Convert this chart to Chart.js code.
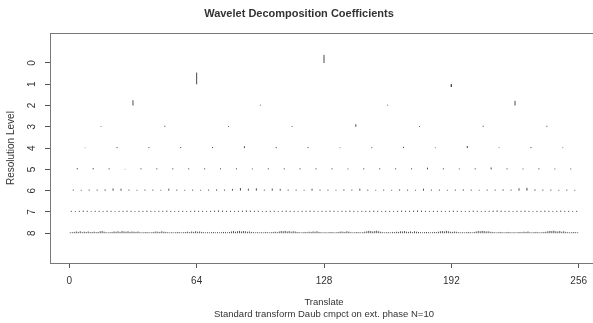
<!DOCTYPE html>
<html><head><meta charset="utf-8">
<script src="https://cdn.jsdelivr.net/npm/chart.js@4/dist/chart.umd.min.js"></script>
<style>
html,body{margin:0;padding:0;overflow:hidden;background:#fff;width:593px;height:323px}
canvas{display:block}
</style></head>
<body>
<canvas id="c" width="648" height="323" style="width:648px;height:323px"></canvas>
<script>
// ---- data (coefficient heights, in resolution-level units; + = upward) ----
const chartTitle = "Wavelet Decomposition Coefficients";
const xTitle = ["Translate", "Standard transform Daub cmpct on ext. phase N=10"];
const yTitle = "Resolution Level";
const xTickValues = [0, 64, 128, 192, 256];
const yTickValues = [0, 1, 2, 3, 4, 5, 6, 7, 8];
const nTranslate = 256;

const d0 = [0.38];
const d1 = [0.55, -0.12];
const d2 = [0.25, 0.04, 0.04, 0.22];
const d3 = [0.03, 0.05, 0.04, 0.04, 0.12, 0.04, 0.05, 0.05];
const d4 = [0.02, 0.05, 0.05, 0.05, 0.05, 0.09, 0.05, 0.05, 0.03, 0.04, 0.06, 0.03, 0.10, 0.03, 0.05, 0.03];
const d5 = [0.06, 0.06, 0.05, 0.02, 0.05, 0.05, 0.05, 0.05,
            0.05, 0.05, 0.05, 0.04, 0.05, 0.05, 0.05, 0.05,
            0.05, 0.04, 0.05, 0.05, 0.05, 0.05, 0.08, 0.05,
            0.04, 0.05, 0.09, 0.05, 0.04, 0.05, 0.04, 0.04];
const d6 = [0.05, 0.04, 0.05, 0.05, 0.06, 0.10, 0.09, 0.05, 0.04, 0.05, 0.05, 0.04, 0.09, 0.05, 0.04, 0.05,
            0.04, 0.05, 0.06, 0.05, 0.08, 0.12, 0.09, 0.11, 0.05, 0.10, 0.08, 0.05, 0.05, 0.04, 0.09, 0.05,
            0.05, 0.04, 0.06, 0.05, 0.09, 0.05, 0.04, 0.05, 0.04, 0.06, 0.05, 0.04, 0.09, 0.05, 0.05, 0.04,
            0.05, 0.06, 0.05, 0.04, 0.05, 0.05, 0.06, 0.05, 0.11, 0.13, 0.06, 0.05, 0.05, 0.04, 0.05, 0.04];
const d7 = [0.05, 0.04, 0.05, 0.06, 0.05, 0.04, 0.05, 0.05, 0.04, 0.06, 0.05, 0.04, 0.05, 0.05, 0.06, 0.05,
            0.04, 0.05, 0.05, 0.06, 0.05, 0.04, 0.05, 0.05, 0.06, 0.05, 0.04, 0.05, 0.05, 0.04, 0.05, 0.06,
            0.05, 0.05, 0.04, 0.05, 0.06, 0.07, 0.06, 0.05, 0.05, 0.04, 0.05, 0.06, 0.07, 0.06, 0.05, 0.05,
            0.04, 0.05, 0.05, 0.05, 0.04, 0.05, 0.06, 0.05, 0.05, 0.04, 0.05, 0.05, 0.06, 0.05, 0.04, 0.05,
            0.05, 0.06, 0.05, 0.04, 0.05, 0.05, 0.06, 0.05, 0.04, 0.05, 0.05, 0.05, 0.06, 0.05, 0.04, 0.05,
            0.05, 0.04, 0.05, 0.06, 0.05, 0.05, 0.06, 0.07, 0.06, 0.05, 0.04, 0.05, 0.05, 0.05, 0.04, 0.05,
            0.06, 0.05, 0.05, 0.04, 0.05, 0.06, 0.05, 0.04, 0.05, 0.05, 0.06, 0.07, 0.06, 0.05, 0.05, 0.04,
            0.05, 0.05, 0.06, 0.05, 0.04, 0.05, 0.05, 0.06, 0.05, 0.04, 0.05, 0.06, 0.05, 0.05, 0.04, 0.05];
const d8 = [0.04, 0.05, 0.06, 0.08, 0.06, 0.09, 0.05, 0.07, 0.06, 0.08, 0.05, 0.06, 0.07, 0.05, 0.06, 0.09,
            0.10, 0.07, 0.05, 0.04, 0.05, 0.06, 0.08, 0.07, 0.09, 0.06, 0.10, 0.08, 0.07, 0.09, 0.06, 0.08,
            0.07, 0.06, 0.08, 0.05, 0.04, 0.05, 0.06, 0.05, 0.04, 0.05, 0.06, 0.08, 0.07, 0.06, 0.09, 0.07,
            0.06, 0.05, 0.04, 0.05, 0.04, 0.05, 0.06, 0.05, 0.04, 0.05, 0.06, 0.07, 0.05, 0.08, 0.06, 0.09,
            0.07, 0.08, 0.06, 0.05, 0.04, 0.05, 0.04, 0.05, 0.06, 0.04, 0.05, 0.04, 0.05, 0.06, 0.05, 0.04,
            0.06, 0.08, 0.10, 0.07, 0.09, 0.11, 0.08, 0.10, 0.09, 0.07, 0.08, 0.06, 0.05, 0.04, 0.05, 0.04,
            0.05, 0.04, 0.06, 0.05, 0.04, 0.05, 0.06, 0.07, 0.05, 0.08, 0.10, 0.09, 0.11, 0.08, 0.10, 0.07,
            0.09, 0.08, 0.06, 0.05, 0.04, 0.05, 0.06, 0.05, 0.07, 0.06, 0.08, 0.07, 0.09, 0.06, 0.05, 0.04,
            0.05, 0.04, 0.05, 0.06, 0.05, 0.04, 0.05, 0.06, 0.08, 0.07, 0.06, 0.09, 0.07, 0.05, 0.04, 0.05,
            0.06, 0.05, 0.04, 0.05, 0.07, 0.09, 0.11, 0.10, 0.08, 0.10, 0.12, 0.09, 0.07, 0.05, 0.04, 0.05,
            0.05, 0.04, 0.06, 0.05, 0.07, 0.06, 0.09, 0.08, 0.10, 0.07, 0.06, 0.08, 0.05, 0.09, 0.07, 0.06,
            0.05, 0.04, 0.05, 0.06, 0.05, 0.04, 0.05, 0.06, 0.05, 0.07, 0.09, 0.10, 0.08, 0.11, 0.09, 0.07,
            0.06, 0.08, 0.07, 0.05, 0.04, 0.05, 0.04, 0.05, 0.06, 0.05, 0.04, 0.06, 0.08, 0.10, 0.09, 0.11,
            0.10, 0.08, 0.09, 0.07, 0.06, 0.05, 0.04, 0.05, 0.06, 0.05, 0.04, 0.05, 0.06, 0.05, 0.04, 0.05,
            0.04, 0.05, 0.06, 0.05, 0.07, 0.06, 0.08, 0.05, 0.04, 0.05, 0.06, 0.05, 0.04, 0.05, 0.06, 0.07,
            0.09, 0.11, 0.10, 0.12, 0.09, 0.08, 0.10, 0.07, 0.09, 0.06, 0.05, 0.04, 0.05, 0.06, 0.05, 0.04];

const coefs = [d0, d1, d2, d3, d4, d5, d6, d7, d8];

// ---- build segments: each coefficient is a vertical stroke from its level ----
function segments(level, vals) {
  const n = vals.length, out = [];
  vals.forEach((v, k) => {
    const x = (k + 0.5) * nTranslate / n;
    out.push({x: x, y: level}, {x: x, y: level - v}, {x: x, y: null});
  });
  return out;
}

const markColor = '#4a4a4a';
const textColor = '#333';
const datasets = coefs.map((vals, lev) => ({
  label: 'Level ' + lev,
  data: segments(lev, vals),
  borderColor: markColor,
  borderWidth: 1,
  pointRadius: 0,
  spanGaps: false,
  tension: 0,
  fill: false
}));

const frame = {
  id: 'frame',
  afterDatasetsDraw(chart) {
    const {ctx, chartArea: a} = chart;
    ctx.save();
    ctx.strokeStyle = '#777';
    ctx.lineWidth = 1;
    ctx.strokeRect(Math.round(a.left) + 0.5, Math.round(a.top) + 0.5,
                   Math.round(a.right - a.left), Math.round(a.bottom - a.top));
    ctx.restore();
  }
};

const FONT = "'Liberation Sans', Arial, Helvetica, sans-serif";

new Chart(document.getElementById('c'), {
  type: 'line',
  data: {datasets},
  plugins: [frame],
  options: {
    responsive: false,
    animation: false,
    devicePixelRatio: 1,
    layout: {padding: {left: 0, right: 50, top: 0, bottom: 0}},
    plugins: {
      legend: {display: false},
      tooltip: {enabled: false},
      title: {
        display: true, text: chartTitle, color: textColor,
        font: {family: FONT, size: 11, weight: 'bold'},
        padding: {top: 7, bottom: 13}
      }
    },
    scales: {
      x: {
        type: 'linear', min: -9.7, max: 265.7,
        afterBuildTicks: s => { s.ticks = xTickValues.map(v => ({value: v})); },
        afterFit: s => { s.height = 60; },
        border: {display: false},
        grid: {display: true, drawOnChartArea: false, drawTicks: true, tickLength: 5, tickColor: '#555'},
        ticks: {color: textColor, font: {family: FONT, size: 10}, padding: 7, maxRotation: 0, autoSkip: false},
        title: {display: true, text: xTitle, color: textColor,
                font: {family: FONT, size: 9.5, lineHeight: 1.3}, padding: {top: 0, bottom: 2}}
      },
      y: {
        type: 'linear', reverse: true, min: -1.4, max: 9.4,
        afterBuildTicks: s => { s.ticks = yTickValues.map(v => ({value: v})); },
        afterFit: s => { s.width = 50; },
        border: {display: false},
        grid: {display: true, drawOnChartArea: false, drawTicks: true, tickLength: 5, tickColor: '#555'},
        ticks: {color: textColor, font: {family: FONT, size: 10}, padding: 10,
                minRotation: 90, maxRotation: 90, crossAlign: 'center', autoSkip: false},
        title: {display: true, text: yTitle, color: textColor,
                font: {family: FONT, size: 10}, padding: {top: 5, bottom: 0}}
      }
    }
  }
});
</script>
</body></html>
